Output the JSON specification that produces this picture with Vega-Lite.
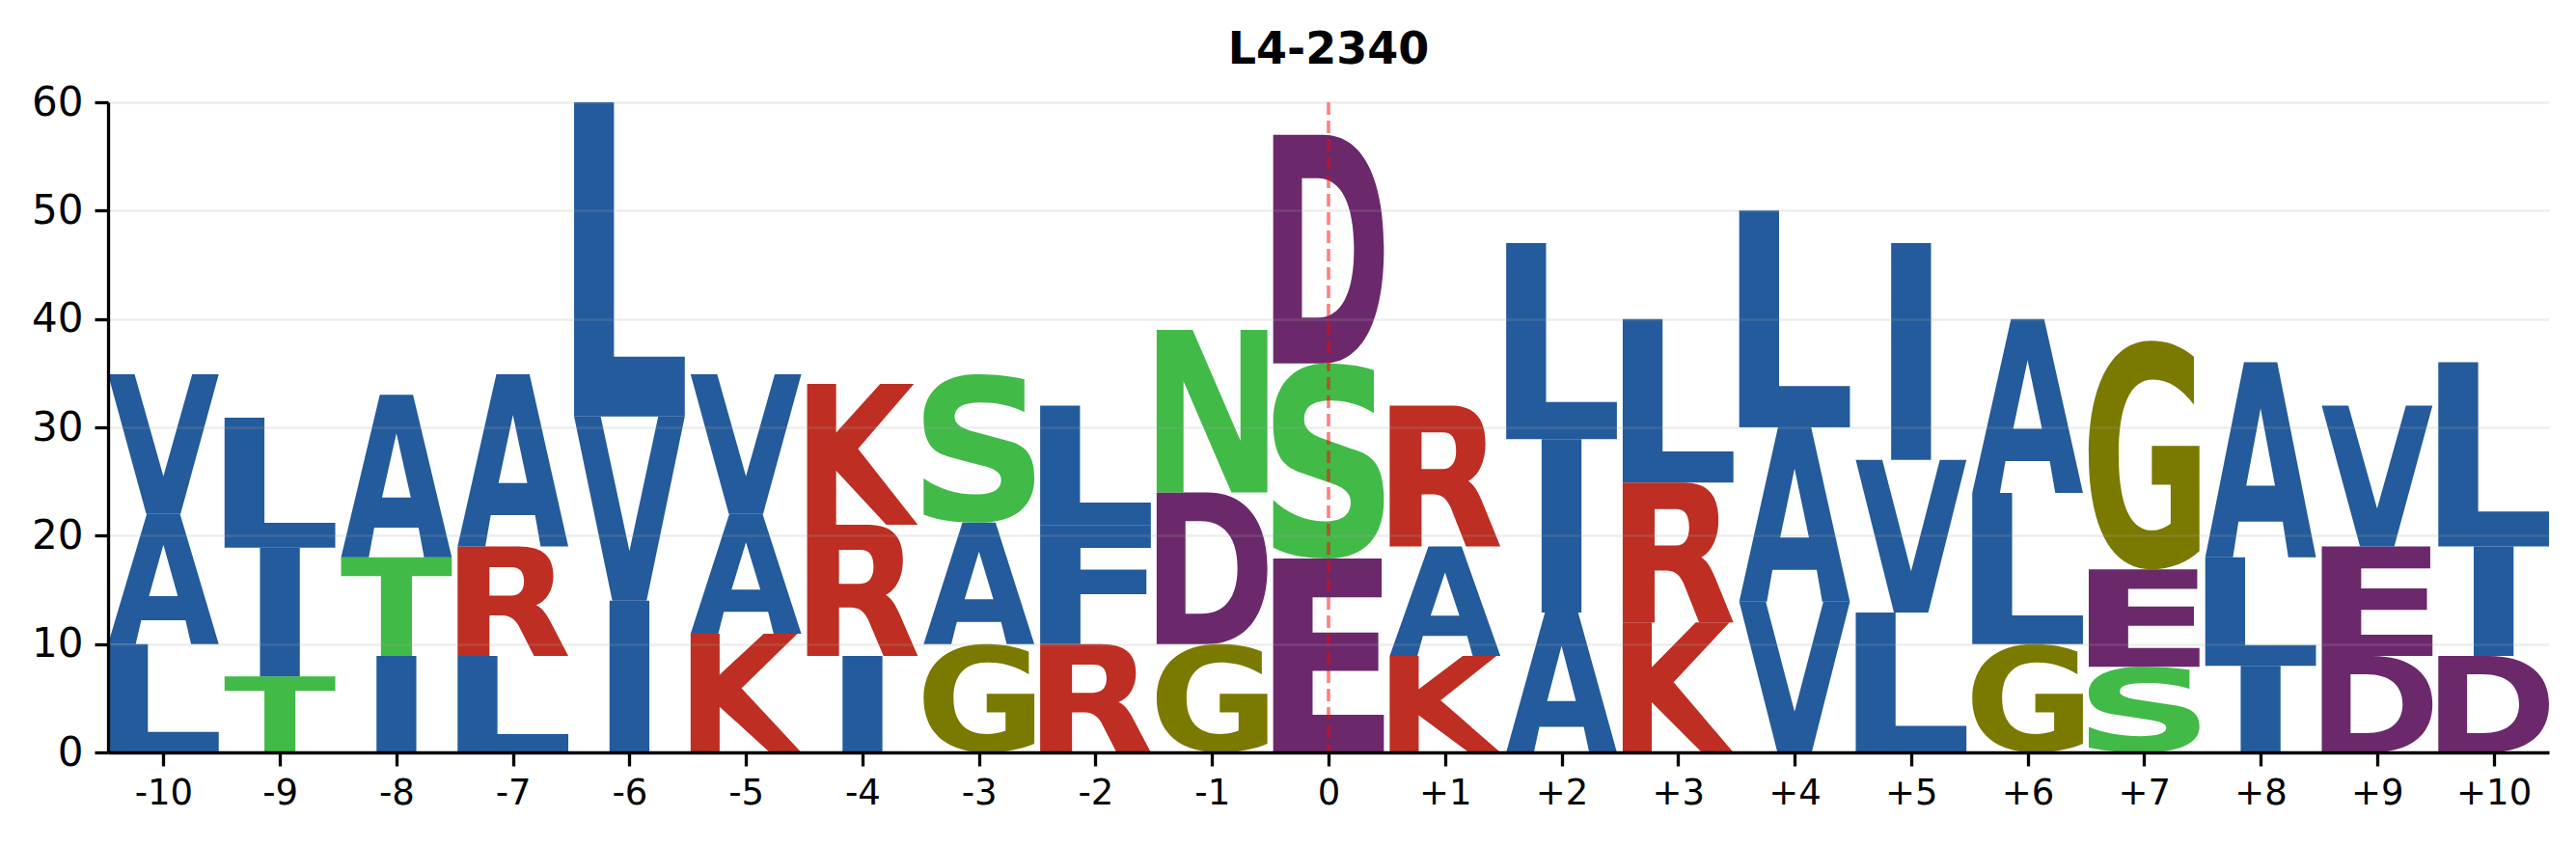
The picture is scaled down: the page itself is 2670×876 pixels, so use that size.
{
  "$schema": "https://vega.github.io/schema/vega-lite/v6.json",
  "width": 2530,
  "height": 674,
  "autosize": {"type": "none"},
  "padding": {"left": 112, "top": 106, "right": 28, "bottom": 96},
  "background": "white",
  "title": {"text": "L4-2340", "font": "DejaVu Sans", "fontSize": 46, "fontWeight": "bold", "color": "#000000", "anchor": "middle", "offset": 9},
  "params": [{"name": "kc", "expr": "height/60/(width/20.95*0.95/2)"}],
  "layer": [
    {
      "data": {"values": [
        {"pos": -10, "l": "L", "h": 10.0}, {"pos": -10, "l": "A", "h": 12.0}, {"pos": -10, "l": "V", "h": 12.9},
        {"pos": -9, "l": "T", "h": 7.0}, {"pos": -9, "l": "I", "h": 11.9}, {"pos": -9, "l": "L", "h": 12.0},
        {"pos": -8, "l": "I", "h": 8.9}, {"pos": -8, "l": "T", "h": 9.1}, {"pos": -8, "l": "A", "h": 15.0},
        {"pos": -7, "l": "L", "h": 8.9}, {"pos": -7, "l": "R", "h": 10.1}, {"pos": -7, "l": "A", "h": 15.9},
        {"pos": -6, "l": "I", "h": 14.0}, {"pos": -6, "l": "V", "h": 17.0}, {"pos": -6, "l": "L", "h": 29.0},
        {"pos": -5, "l": "K", "h": 10.95}, {"pos": -5, "l": "A", "h": 11.05}, {"pos": -5, "l": "V", "h": 12.9},
        {"pos": -4, "l": "I", "h": 8.9}, {"pos": -4, "l": "R", "h": 12.1}, {"pos": -4, "l": "K", "h": 13.0},
        {"pos": -3, "l": "G", "h": 10.0}, {"pos": -3, "l": "A", "h": 11.2}, {"pos": -3, "l": "S", "h": 13.7},
        {"pos": -2, "l": "R", "h": 10.0}, {"pos": -2, "l": "F", "h": 10.95}, {"pos": -2, "l": "L", "h": 11.05},
        {"pos": -1, "l": "G", "h": 10.0}, {"pos": -1, "l": "D", "h": 14.0}, {"pos": -1, "l": "N", "h": 15.0},
        {"pos": 0, "l": "E", "h": 17.9}, {"pos": 0, "l": "S", "h": 18.0}, {"pos": 0, "l": "D", "h": 21.1},
        {"pos": 1, "l": "K", "h": 8.9}, {"pos": 1, "l": "A", "h": 10.1}, {"pos": 1, "l": "R", "h": 13.0},
        {"pos": 2, "l": "A", "h": 12.9}, {"pos": 2, "l": "I", "h": 16.0}, {"pos": 2, "l": "L", "h": 18.1},
        {"pos": 3, "l": "K", "h": 12.0}, {"pos": 3, "l": "R", "h": 12.9}, {"pos": 3, "l": "L", "h": 15.1},
        {"pos": 4, "l": "V", "h": 13.9}, {"pos": 4, "l": "A", "h": 16.1}, {"pos": 4, "l": "L", "h": 20.0},
        {"pos": 5, "l": "L", "h": 12.9}, {"pos": 5, "l": "V", "h": 14.1}, {"pos": 5, "l": "I", "h": 20.0},
        {"pos": 6, "l": "G", "h": 10.0}, {"pos": 6, "l": "L", "h": 13.95}, {"pos": 6, "l": "A", "h": 16.05},
        {"pos": 7, "l": "S", "h": 7.9}, {"pos": 7, "l": "E", "h": 9.0}, {"pos": 7, "l": "G", "h": 21.1},
        {"pos": 8, "l": "I", "h": 8.0}, {"pos": 8, "l": "L", "h": 10.0}, {"pos": 8, "l": "A", "h": 18.0},
        {"pos": 9, "l": "D", "h": 8.9}, {"pos": 9, "l": "E", "h": 10.1}, {"pos": 9, "l": "V", "h": 13.0},
        {"pos": 10, "l": "D", "h": 8.9}, {"pos": 10, "l": "I", "h": 10.1}, {"pos": 10, "l": "L", "h": 17.0}
      ]},
      "transform": [
        {"stack": "h", "groupby": ["pos"], "sort": [{"field": "h", "order": "ascending"}], "as": ["y0", "y1"]}
      ],
      "mark": {
        "type": "point",
        "filled": true,
        "opacity": 1,
        "strokeWidth": 0,
        "size": {"expr": "pow(width/20.95*0.95,2)"},
        "shape": {"expr": "datum.l=='L' ? ('M-1,0L-1,'+(-datum.h*kc)+'L-0.28,'+(-datum.h*kc)+'L-0.28,'+(-0.19*datum.h*kc)+'L1,'+(-0.19*datum.h*kc)+'L1,0Z') : datum.l=='I' ? ('M-0.36,0L-0.36,'+(-datum.h*kc)+'L0.36,'+(-datum.h*kc)+'L0.36,0Z') : datum.l=='T' ? ('M-1,'+(-datum.h*kc)+'L1,'+(-datum.h*kc)+'L1,'+(-0.81*datum.h*kc)+'L0.28,'+(-0.81*datum.h*kc)+'L0.28,0L-0.28,0L-0.28,'+(-0.81*datum.h*kc)+'L-1,'+(-0.81*datum.h*kc)+'Z') : datum.l=='E' ? ('M-1,0L-1,'+(-datum.h*kc)+'L0.96,'+(-datum.h*kc)+'L0.96,'+(-0.8*datum.h*kc)+'L-0.288,'+(-0.8*datum.h*kc)+'L-0.288,'+(-0.618*datum.h*kc)+'L0.9,'+(-0.618*datum.h*kc)+'L0.9,'+(-0.42*datum.h*kc)+'L-0.288,'+(-0.42*datum.h*kc)+'L-0.288,'+(-0.194*datum.h*kc)+'L1,'+(-0.194*datum.h*kc)+'L1,0Z') : datum.l=='F' ? ('M-1,0L-1,'+(-datum.h*kc)+'L1,'+(-datum.h*kc)+'L1,'+(-0.81*datum.h*kc)+'L-0.272,'+(-0.81*datum.h*kc)+'L-0.272,'+(-0.627*datum.h*kc)+'L0.92,'+(-0.627*datum.h*kc)+'L0.92,'+(-0.42*datum.h*kc)+'L-0.272,'+(-0.42*datum.h*kc)+'L-0.272,0Z') : datum.l=='V' ? ('M-1,'+(-datum.h*kc)+'L-0.52,'+(-datum.h*kc)+'L0,'+(-0.27*datum.h*kc)+'L0.52,'+(-datum.h*kc)+'L1,'+(-datum.h*kc)+'L0.31,0L-0.31,0Z') : datum.l=='A' ? ('M-1,0L-0.3,'+(-datum.h*kc)+'L0.3,'+(-datum.h*kc)+'L1,0L0.5,0L0.4,'+(-0.183*datum.h*kc)+'L-0.4,'+(-0.183*datum.h*kc)+'L-0.5,0ZM-0.26,'+(-0.368*datum.h*kc)+'L0.26,'+(-0.368*datum.h*kc)+'L0,'+(-0.763*datum.h*kc)+'Z') : datum.l=='K' ? ('M-1,0L-1,'+(-datum.h*kc)+'L-0.476,'+(-datum.h*kc)+'L-0.476,'+(-0.655*datum.h*kc)+'L0.32,'+(-datum.h*kc)+'L0.93,'+(-datum.h*kc)+'L-0.08,'+(-0.54*datum.h*kc)+'L1,0L0.43,0L-0.476,'+(-0.385*datum.h*kc)+'L-0.476,0Z') : datum.l=='N' ? ('M-1,0L-1,'+(-datum.h*kc)+'L-0.35,'+(-datum.h*kc)+'L0.515,'+(-0.317*datum.h*kc)+'L0.515,'+(-datum.h*kc)+'L1,'+(-datum.h*kc)+'L1,0L0.35,0L-0.515,'+(-0.683*datum.h*kc)+'L-0.515,0Z') : datum.l=='R' ? ('M-1,0L-1,'+(-datum.h*kc)+'L0.1,'+(-datum.h*kc)+'C0.56,'+(-datum.h*kc)+',0.73,'+(-0.9*datum.h*kc)+',0.73,'+(-0.73*datum.h*kc)+'C0.73,'+(-0.6*datum.h*kc)+',0.6,'+(-0.5*datum.h*kc)+',0.42,'+(-0.465*datum.h*kc)+'C0.52,'+(-0.44*datum.h*kc)+',0.58,'+(-0.4*datum.h*kc)+',0.66,'+(-0.33*datum.h*kc)+'L1,0L0.38,0L0.1,'+(-0.28*datum.h*kc)+'C0,'+(-0.36*datum.h*kc)+',-0.1,'+(-0.37*datum.h*kc)+',-0.24,'+(-0.37*datum.h*kc)+'L-0.424,'+(-0.37*datum.h*kc)+'L-0.424,0ZM-0.424,'+(-0.55*datum.h*kc)+'L-0.04,'+(-0.55*datum.h*kc)+'C0.12,'+(-0.55*datum.h*kc)+',0.2,'+(-0.6*datum.h*kc)+',0.2,'+(-0.68*datum.h*kc)+'C0.2,'+(-0.77*datum.h*kc)+',0.12,'+(-0.81*datum.h*kc)+',-0.04,'+(-0.81*datum.h*kc)+'L-0.424,'+(-0.81*datum.h*kc)+'Z') : datum.l=='D' ? ('M-1,0L-1,'+(-datum.h*kc)+'L-0.1,'+(-datum.h*kc)+'C0.64,'+(-datum.h*kc)+',1,'+(-0.8*datum.h*kc)+',1,'+(-0.5*datum.h*kc)+'C1,'+(-0.2*datum.h*kc)+',0.64,0,-0.1,0ZM-0.48,'+(-0.2*datum.h*kc)+'L-0.2,'+(-0.2*datum.h*kc)+'C0.24,'+(-0.2*datum.h*kc)+',0.46,'+(-0.31*datum.h*kc)+',0.46,'+(-0.5*datum.h*kc)+'C0.46,'+(-0.69*datum.h*kc)+',0.24,'+(-0.81*datum.h*kc)+',-0.2,'+(-0.81*datum.h*kc)+'L-0.48,'+(-0.81*datum.h*kc)+'Z') : datum.l=='G' ? ('M0.9,'+(-0.93*datum.h*kc)+'C0.66,'+(-0.98*datum.h*kc)+',0.4,'+(-datum.h*kc)+',0.12,'+(-datum.h*kc)+'C-0.6,'+(-datum.h*kc)+',-1,'+(-0.8*datum.h*kc)+',-1,'+(-0.5*datum.h*kc)+'C-1,'+(-0.19*datum.h*kc)+',-0.6,0,0.12,0C0.48,0,0.78,'+(-0.03*datum.h*kc)+',1,'+(-0.08*datum.h*kc)+'L1,'+(-0.54*datum.h*kc)+'L0.14,'+(-0.54*datum.h*kc)+'L0.14,'+(-0.37*datum.h*kc)+'L0.48,'+(-0.37*datum.h*kc)+'L0.48,'+(-0.2*datum.h*kc)+'C0.38,'+(-0.18*datum.h*kc)+',0.26,'+(-0.17*datum.h*kc)+',0.14,'+(-0.17*datum.h*kc)+'C-0.26,'+(-0.17*datum.h*kc)+',-0.46,'+(-0.29*datum.h*kc)+',-0.46,'+(-0.5*datum.h*kc)+'C-0.46,'+(-0.71*datum.h*kc)+',-0.26,'+(-0.83*datum.h*kc)+',0.16,'+(-0.83*datum.h*kc)+'C0.44,'+(-0.83*datum.h*kc)+',0.68,'+(-0.79*datum.h*kc)+',0.9,'+(-0.72*datum.h*kc)+'Z') : ('M0.82,'+(-0.965*datum.h*kc)+'C0.56,'+(-0.99*datum.h*kc)+',0.26,'+(-datum.h*kc)+',-0.04,'+(-datum.h*kc)+'C-0.66,'+(-datum.h*kc)+',-1,'+(-0.88*datum.h*kc)+',-1,'+(-0.7*datum.h*kc)+'C-1,'+(-0.52*datum.h*kc)+',-0.8,'+(-0.47*datum.h*kc)+',-0.5,'+(-0.44*datum.h*kc)+'L0.1,'+(-0.38*datum.h*kc)+'C0.3,'+(-0.36*datum.h*kc)+',0.4,'+(-0.33*datum.h*kc)+',0.4,'+(-0.29*datum.h*kc)+'C0.4,'+(-0.22*datum.h*kc)+',0.24,'+(-0.19*datum.h*kc)+',-0.08,'+(-0.19*datum.h*kc)+'C-0.4,'+(-0.19*datum.h*kc)+',-0.74,'+(-0.23*datum.h*kc)+',-1,'+(-0.3*datum.h*kc)+'L-1,'+(-0.055*datum.h*kc)+'C-0.7,'+(-0.01*datum.h*kc)+',-0.34,0,0,0C0.68,0,1,'+(-0.12*datum.h*kc)+',1,'+(-0.3*datum.h*kc)+'C1,'+(-0.48*datum.h*kc)+',0.8,'+(-0.53*datum.h*kc)+',0.44,'+(-0.56*datum.h*kc)+'L-0.16,'+(-0.62*datum.h*kc)+'C-0.34,'+(-0.64*datum.h*kc)+',-0.44,'+(-0.67*datum.h*kc)+',-0.44,'+(-0.71*datum.h*kc)+'C-0.44,'+(-0.78*datum.h*kc)+',-0.28,'+(-0.81*datum.h*kc)+',0.04,'+(-0.81*datum.h*kc)+'C0.32,'+(-0.81*datum.h*kc)+',0.58,'+(-0.79*datum.h*kc)+',0.82,'+(-0.745*datum.h*kc)+'Z')"}
      },
      "encoding": {
        "x": {
          "field": "pos", "type": "quantitative",
          "scale": {"domain": [-10.475, 10.475], "nice": false, "zero": false},
          "axis": {
            "values": [-10, -9, -8, -7, -6, -5, -4, -3, -2, -1, 0, 1, 2, 3, 4, 5, 6, 7, 8, 9, 10],
            "labelExpr": "datum.value > 0 ? '+' + datum.value : '' + datum.value",
            "grid": false, "title": null,
            "domainColor": "#000000", "domainWidth": 3.3,
            "tickColor": "#000000", "tickWidth": 3.3, "tickSize": 14,
            "labelFont": "DejaVu Sans", "labelFontSize": 37, "labelColor": "#000000",
            "labelPadding": 10, "labelFlush": false, "labelOverlap": false, "zindex": 1
          }
        },
        "y": {
          "field": "y0", "type": "quantitative",
          "scale": {"domain": [0, 60], "nice": false},
          "axis": {
            "values": [0, 10, 20, 30, 40, 50, 60],
            "grid": true, "gridColor": "#aaaaaa", "gridOpacity": 0.2, "gridWidth": 2.5,
            "title": null,
            "domainColor": "#000000", "domainWidth": 3.3,
            "tickColor": "#000000", "tickWidth": 3.3, "tickSize": 14,
            "labelFont": "DejaVu Sans", "labelFontSize": 42, "labelColor": "#000000",
            "labelPadding": 12, "zindex": 1
          }
        },
        "color": {
          "field": "l", "type": "nominal",
          "scale": {
            "domain": ["A", "V", "L", "I", "F", "S", "T", "N", "K", "R", "D", "E", "G"],
            "range": ["#235b9c", "#235b9c", "#235b9c", "#235b9c", "#235b9c", "#41ba47", "#41ba47", "#41ba47", "#be2e22", "#be2e22", "#6b296b", "#6b296b", "#7a7a00"]
          },
          "legend": null
        }
      }
    },
    {
      "data": {"values": [{"ref": 0}]},
      "mark": {"type": "rule", "color": "#ff0000", "opacity": 0.5, "strokeWidth": 3.6, "strokeDash": [13, 6]},
      "encoding": {"x": {"field": "ref", "type": "quantitative"}}
    }
  ],
  "config": {"view": {"stroke": null}}
}
